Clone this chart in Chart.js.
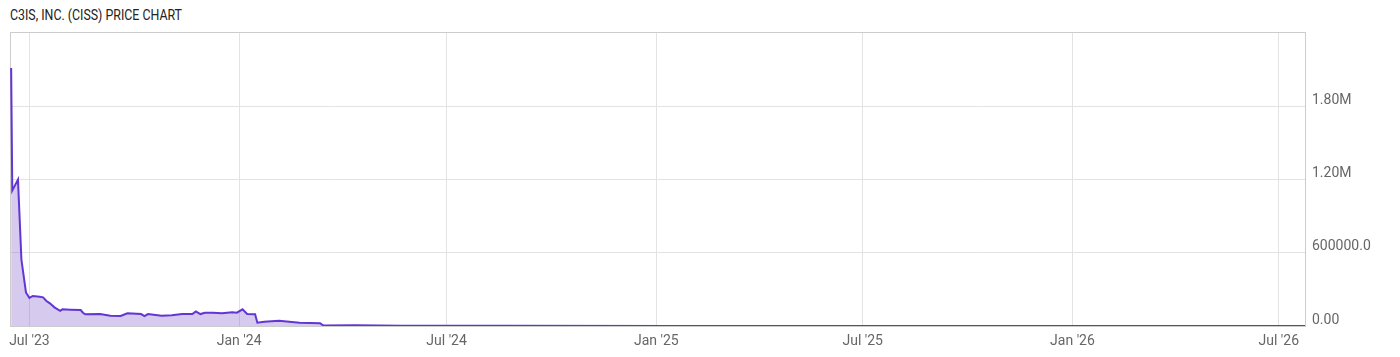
<!DOCTYPE html>
<html>
<head>
<meta charset="utf-8">
<script src="https://cdn.jsdelivr.net/npm/chart.js@4.4.1/dist/chart.umd.min.js"></script>
<style>
  html, body { margin: 0; padding: 0; background: #fff; }
  #wrap { position: relative; width: 1400px; height: 357px; }
  #titre {
    position: absolute; left: 10px; top: 7px;
    font-family: Roboto, sans-serif; font-size: 14px; color: #222;
    transform-origin: left top; white-space: nowrap; display: inline-block;
  }
  canvas { position: absolute; left: 0; top: 0; }
</style>
</head>
<body>
<div id="wrap">
  <div id="titre">C3IS, INC. (CISS) PRICE CHART</div>
  <canvas id="graphique" width="1400" height="357"></canvas>
</div>
<script>
// Dados (datas e preços)
const datas = [
  '2023-06-15', '2023-06-16', '2023-06-21', '2023-06-24', '2023-06-28', '2023-07-01',
  '2023-07-04', '2023-07-10', '2023-07-13', '2023-07-16', '2023-07-19', '2023-07-23',
  '2023-07-28', '2023-07-30', '2023-08-06', '2023-08-15', '2023-08-17', '2023-08-19',
  '2023-09-01', '2023-09-10', '2023-09-19', '2023-09-25', '2023-10-07', '2023-10-10',
  '2023-10-13', '2023-10-25', '2023-11-03', '2023-11-12', '2023-11-21', '2023-11-24',
  '2023-11-28', '2023-12-02', '2023-12-09', '2023-12-17', '2023-12-26', '2023-12-30',
  '2024-01-04', '2024-01-08', '2024-01-15', '2024-01-17', '2024-01-23', '2024-02-05',
  '2024-02-23', '2024-03-12', '2024-03-15', '2024-04-12', '2024-05-22', '2024-08-21',
  '2025-01-15', '2025-07-10', '2026-01-10', '2026-07-24'
];
const precos = [
  2115000, 1110000, 1200000, 545000, 275000, 230000,
  246000, 240000, 235000, 205000, 186000, 153000,
  125000, 137000, 134000, 131000, 109000, 96000,
  98000, 84000, 82000, 104000, 98000, 82000,
  98000, 85000, 88000, 98000, 98000, 120000,
  98000, 109000, 109000, 104000, 112000, 109000,
  137000, 98000, 96000, 27000, 35000, 43000,
  27000, 22000, 4000, 6000, 2500, 1800,
  1000, 600, 300, 200
];

// Marcas do eixo X
const datasMarcas = ['2023-07-01', '2024-01-01', '2024-07-01', '2025-01-01', '2025-07-01', '2026-01-01', '2026-07-01'];
const rotulosX = ["Jul '23", "Jan '24", "Jul '24", "Jan '25", "Jul '25", "Jan '26", "Jul '26"];

// Marcas do eixo Y
const valoresY = [0, 600000, 1200000, 1800000];
const rotulosY = ['0.00', '600000.0', '1.20M', '1.80M'];

const DIA = 86400000;
const emDias = s => Date.parse(s + 'T00:00:00Z') / DIA;

const pontos = datas.map((d, i) => ({ x: emDias(d), y: precos[i] }));
const marcasX = datasMarcas.map(emDias);

// Ajusta a largura do título (fonte condensada no original)
const titre = document.getElementById('titre');
titre.style.transform = 'scaleX(' + (172 / titre.getBoundingClientRect().width) + ')';

// Plugin para desenhar a moldura da área do gráfico
const moldura = {
  id: 'moldura',
  beforeDatasetsDraw(chart) {
    const { ctx, chartArea: a } = chart;
    ctx.save();
    ctx.strokeStyle = '#cccccc';
    ctx.lineWidth = 1;
    ctx.strokeRect(a.left + 0.5, a.top + 0.5, a.right - a.left, a.bottom - a.top);
    ctx.restore();
  }
};

const ctx = document.getElementById('graphique').getContext('2d');
new Chart(ctx, {
  type: 'line',
  data: {
    datasets: [{
      data: pontos,
      borderColor: '#6236d4',
      backgroundColor: 'rgba(120, 80, 200, 0.30)',
      borderWidth: 2,
      fill: 'origin',
      pointRadius: 0,
      tension: 0
    }]
  },
  options: {
    responsive: false,
    animation: false,
    layout: { padding: { left: 10, top: 32, right: 0, bottom: 0 } },
    plugins: {
      legend: { display: false },
      tooltip: { enabled: false }
    },
    scales: {
      x: {
        type: 'linear',
        min: emDias('2023-06-14'),
        max: emDias('2026-07-24'),
        afterBuildTicks: s => { s.ticks = marcasX.map(v => ({ value: v })); },
        afterFit: s => { s.height = 31; },
        grid: { color: '#e3e3e3', drawTicks: false },
        border: { display: false },
        ticks: {
          padding: 7,
          color: '#666',
          font: { family: 'Roboto', size: 14 },
          maxRotation: 0,
          callback: v => rotulosX[marcasX.indexOf(v)]
        }
      },
      y: {
        position: 'right',
        min: 0,
        max: 2410000,
        afterBuildTicks: s => { s.ticks = valoresY.map(v => ({ value: v })); },
        afterFit: s => { s.width = 95; },
        grid: { color: '#e3e3e3', drawTicks: false },
        border: { display: false },
        ticks: {
          padding: 7,
          labelOffset: -6,
          color: '#666',
          font: { family: 'Roboto', size: 14 },
          callback: v => rotulosY[valoresY.indexOf(v)]
        }
      }
    }
  },
  plugins: [moldura]
});
</script>
</body>
</html>
